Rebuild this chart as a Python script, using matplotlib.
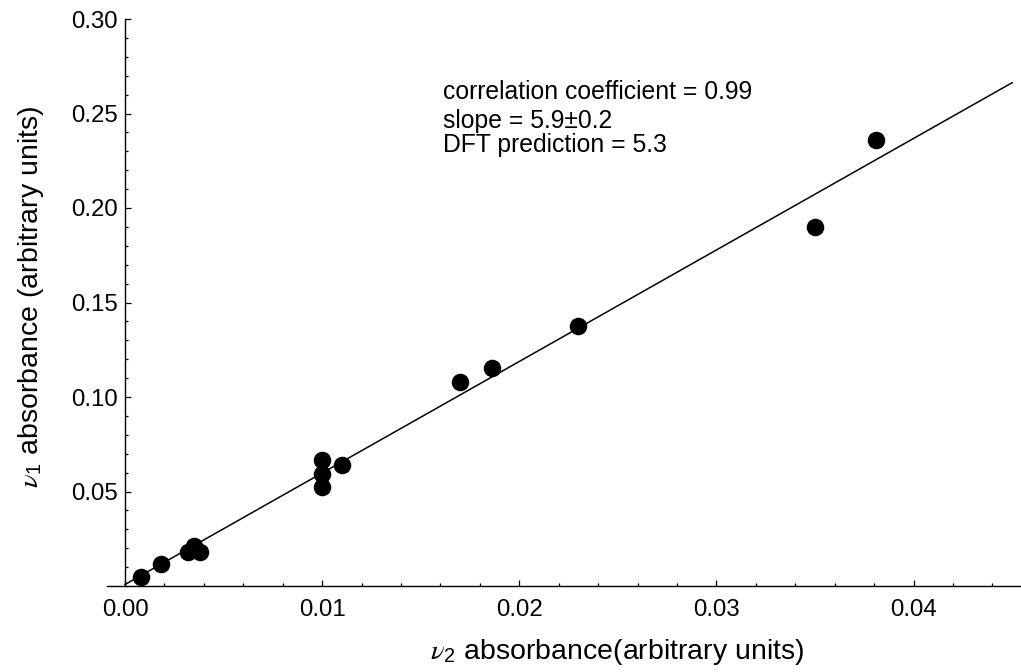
import numpy as np
import matplotlib
matplotlib.use('Agg')
import matplotlib.pyplot as plt
from matplotlib.ticker import MultipleLocator

# absorbâncias medidas (unidades arbitrárias)
nu2_abs = [0.0008, 0.0018, 0.0032, 0.0035, 0.0038, 0.0100, 0.0100, 0.0100,
           0.0110, 0.0170, 0.0186, 0.0230, 0.0350, 0.0381]
nu1_abs = [0.0045, 0.0116, 0.0182, 0.0212, 0.0180, 0.0665, 0.0593, 0.0525,
           0.0639, 0.1081, 0.1155, 0.1376, 0.1901, 0.2360]

# reta ajustada
fit_slope = 5.9
fit_intercept = 0.0008
fit_x = [0.0, 0.045]

x_ticks = [0.00, 0.01, 0.02, 0.03, 0.04]
y_ticks = [0.05, 0.10, 0.15, 0.20, 0.25, 0.30]

info_lines = ['correlation coefficient = 0.99',
              'slope = 5.9\u00b10.2',
              'DFT prediction = 5.3']

plt.rcParams['font.family'] = ['Liberation Sans', 'DejaVu Sans']
plt.rcParams['mathtext.fontset'] = 'custom'
plt.rcParams['mathtext.rm'] = 'Liberation Sans'
plt.rcParams['mathtext.it'] = 'STIXGeneral:italic'

fig = plt.figure(figsize=(10.21, 6.72), dpi=100)
ax = fig.add_axes([106.7 / 1021, 86 / 672, (1021 - 106.7) / 1021, (586 - 19) / 672])

ax.set_xlim(-0.00093, 0.04545)
ax.set_ylim(0, 0.30)

ax.spines['top'].set_visible(False)
ax.spines['right'].set_visible(False)
ax.spines['left'].set_position(('data', 0))
ax.spines['left'].set_linewidth(1.0)
ax.spines['bottom'].set_linewidth(1.0)

ax.set_xticks(x_ticks)
ax.set_xticklabels([f'{t:.2f}' for t in x_ticks])
ax.set_yticks(y_ticks)
ax.set_yticklabels([f'{t:.2f}' for t in y_ticks])
ax.xaxis.set_minor_locator(MultipleLocator(0.002))
ax.yaxis.set_minor_locator(MultipleLocator(0.01))

ax.tick_params(which='both', direction='in', labelsize=17.3, width=0.9)
ax.tick_params(which='major', length=4)
ax.tick_params(which='minor', length=2.3)
ax.tick_params(axis='x', which='major', pad=9)
ax.tick_params(axis='y', which='major', pad=5)

# pontos e reta
fx = np.array(fit_x)
ax.plot(fx, fit_slope * fx + fit_intercept, color='black', lw=1.1, zorder=2)
ax.scatter(nu2_abs, nu1_abs, s=135, color='black', zorder=3, clip_on=False)

# quadro de texto com os resultados
baselines = [0.2575, 0.2422, 0.2295]
for txt, yb in zip(info_lines, baselines):
    ax.text(0.01612, yb, txt, fontsize=17.8, ha='left', va='baseline')

fig.text(617 / 1021, 1 - 652 / 672, r'$\nu_2$ absorbance(arbitrary units)',
         fontsize=20.5, ha='center', va='center')
fig.text(31 / 1021, 1 - 297 / 672, r'$\nu_1$ absorbance (arbitrary units)',
         fontsize=20.5, ha='center', va='center', rotation=90)

fig.savefig('out.png', dpi=100)
